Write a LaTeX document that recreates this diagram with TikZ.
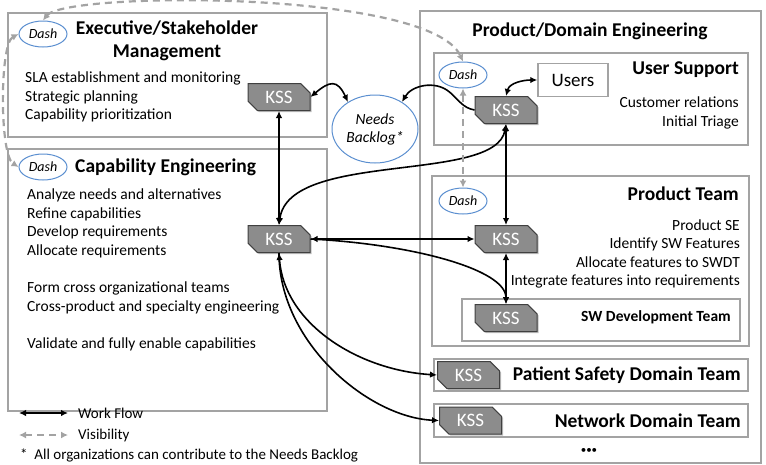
\documentclass[tikz,border=0pt]{standalone}
\usepackage{fontspec}
\setmainfont{Carlito}
\usetikzlibrary{arrows.meta, shadows, positioning, calc, shapes}

\definecolor{frgray}{HTML}{A3A3A3}
\definecolor{ksgray}{HTML}{8C8C8C}
\definecolor{dshblue}{HTML}{5B8FD0}

\tikzset{
  frm/.style={draw=frgray, line width=2pt, rectangle, inner sep=0pt, anchor=north west},
  ttl/.style={font=\fontsize{19.5}{23}\selectfont\bfseries, inner sep=0pt},
  txt/.style={font=\fontsize{15.5}{18.6}\selectfont, inner sep=0pt},
  lgd/.style={font=\fontsize{15}{18}\selectfont, inner sep=0pt},
  kss/.style={chamfered rectangle, chamfered rectangle corners={north east,south west},
    chamfered rectangle xsep=11pt, draw=black!75, line width=1pt, fill=ksgray, text=white,
    font=\fontsize{19}{19}\selectfont, minimum width=62pt, minimum height=27pt, inner sep=0pt,
    drop shadow={shadow xshift=1.5pt, shadow yshift=-1.5pt, opacity=.5}},
  dsh/.style={ellipse, draw=dshblue, line width=1pt, fill=white, font=\fontsize{14}{14}\selectfont\itshape,
    minimum width=48pt, minimum height=26pt, inner sep=0pt},
  wf/.style={line width=1.6pt, >={Latex[length=7pt,width=6.5pt]}},
  vis/.style={frgray, line width=2.2pt, dash pattern=on 7pt off 5pt, >={Latex[length=7pt,width=7pt]}}
}

\begin{document}
\begin{tikzpicture}[x=1pt,y=1pt]
    \useasboundingbox (0,0) rectangle (766,-464);
    \node[frm, minimum width=319pt, minimum height=124pt] (EX) at (7,-12) {};
    \node[frm, minimum width=319pt, minimum height=262pt] (CE) at (7,-148) {};
    \node[frm, minimum width=341pt, minimum height=452pt] (PD) at (419,-10) {};
    \node[frm, minimum width=314pt, minimum height=92pt] (US) at (433,-52) {};
    \node[frm, minimum width=317pt, minimum height=170pt] (PT) at (431,-175) {};
    \node[frm, minimum width=278pt, minimum height=42pt] (SW) at (461,-298) {};
    \node[frm, minimum width=314pt, minimum height=32pt] (PS) at (433,-358) {};
    \node[frm, minimum width=314pt, minimum height=33pt] (NW) at (433,-403) {};

    \node[ttl, align=center] (EXt) at (167,-41) {Executive/Stakeholder\\Management};
    \node[ttl, anchor=west] (CEt) at (75,-167) {Capability Engineering};
    \node[ttl] (PDt) at (590,-31) {Product/Domain Engineering};
    \node[ttl, anchor=east] (USt) at (739,-70) {User Support};
    \node[ttl, anchor=east] (PTt) at (739,-194) {Product Team};
    \node[ttl, font=\fontsize{15.5}{18}\selectfont\bfseries, left=10pt of SW.east, yshift=3pt] (SWt) {SW Development Team};
    \node[ttl, left=8pt of PS.east] (PSt) {Patient Safety Domain Team};
    \node[ttl, left=8pt of NW.east] (NWt) {Network Domain Team};
    \node[font=\fontsize{11}{11}\selectfont] (dots) at (589,-451) {\textbullet\textbullet\textbullet};

    \node[txt, align=left, anchor=west] (EXb) at (25,-97) {SLA establishment and monitoring\\Strategic planning\\Capability prioritization};
    \node[txt, align=left, anchor=west] (CEb) at (27,-270) {Analyze needs and alternatives\\Refine capabilities\\Develop requirements\\Allocate requirements\\[18.6pt]Form cross organizational teams\\Cross-product and specialty engineering\\[18.6pt]Validate and fully enable capabilities};
    \node[txt, align=right, anchor=east] (USb) at (739,-113) {Customer relations\\Initial Triage};
    \node[txt, align=right, anchor=east] (PTb) at (740,-254) {Product SE\\Identify SW Features\\Allocate features to SWDT\\Integrate features into requirements};

    \node[dsh] (Dex) at (43,-34) {Dash};
    \node[dsh] (Dce) at (43,-167) {Dash};
    \node[dsh] (Dus) at (463,-75) {Dash};
    \node[dsh] (Dpt) at (463,-201) {Dash};
    \node[kss] (Kex) at (279,-97) {KSS};
    \node[kss] (Kce) at (279,-239) {KSS};
    \node[kss] (Kus) at (506,-110) {KSS};
    \node[kss] (Kpt) at (506,-239) {KSS};
    \node[kss] (Ksw) at (506,-318) {KSS};
    \node[kss, right=4pt of PS.west] (Kps) {KSS};
    \node[kss, right=6pt of NW.west] (Knw) {KSS};
    \node[draw=frgray, line width=1.5pt, minimum width=70pt, minimum height=33pt, font=\fontsize{19}{19}\selectfont] (Us) at (573,-80) {Users};
    \node[ellipse, draw=dshblue, line width=1pt, fill=white, minimum width=86pt, minimum height=68pt, align=center, inner sep=0pt, font=\fontsize{15.5}{18}\selectfont\itshape] (Nb) at (375,-129) {Needs\\Backlog*};

    \draw[wf,<->] (Kex.east) to[out=40,in=115,looseness=1.7] (Nb.135);
    \draw[wf,->] (Kus.west) to[out=170,in=-40] ++(-25,18) to[out=140,in=60] (Nb.45);
    \draw[wf,<->] (Kus.north) to[out=75,in=180] (Us.west);
    \draw[wf,<->] (Kex) -- (Kce);
    \draw[wf,<->] (Kus.south) .. controls +(-10,-60) and +(10,75) .. (Kce.north);
    \draw[wf,<->] (Kus) -- (Kpt);
    \draw[wf,<->] (Kce) -- (Kpt);
    \draw[wf,->] (Kce.east) .. controls +(100,-5) and +(0,35) .. (Ksw.north);
    \draw[wf,<->] (Kpt) -- (Ksw);
    \draw[wf,<->] (Kce.south) .. controls +(5,-70) and +(-80,5) .. (Kps.west);
    \draw[wf,->] (Kce.south) .. controls +(0,-90) and +(-70,3) .. (Knw.west);

    \draw[vis,<->] (Dex.north) .. controls +(22,29) and +(-33,72) .. (Dus.north);
    \draw[vis,<->] (Dex.west) .. controls +(-19,-10) and +(-19,12) .. (Dce.west);
    \draw[vis,<->] (Dus) -- (Dpt);

    \coordinate (W1) at (19,-413);
    \coordinate (W2) at (68,-413);
    \coordinate (V1) at (19,-435);
    \coordinate (V2) at (68,-435);
    \draw[wf,<->] (W1) -- (W2);
    \draw[vis,<->] (V1) -- (V2);
    \node[lgd, right=10pt of W2] (Wt) {Work Flow};
    \node[lgd, right=10pt of V2] (Vt) {Visibility};
    \node[lgd, anchor=west] (Ft) at (20,-455) {*\ \ All organizations can contribute to the Needs Backlog};
\end{tikzpicture}
\end{document}
